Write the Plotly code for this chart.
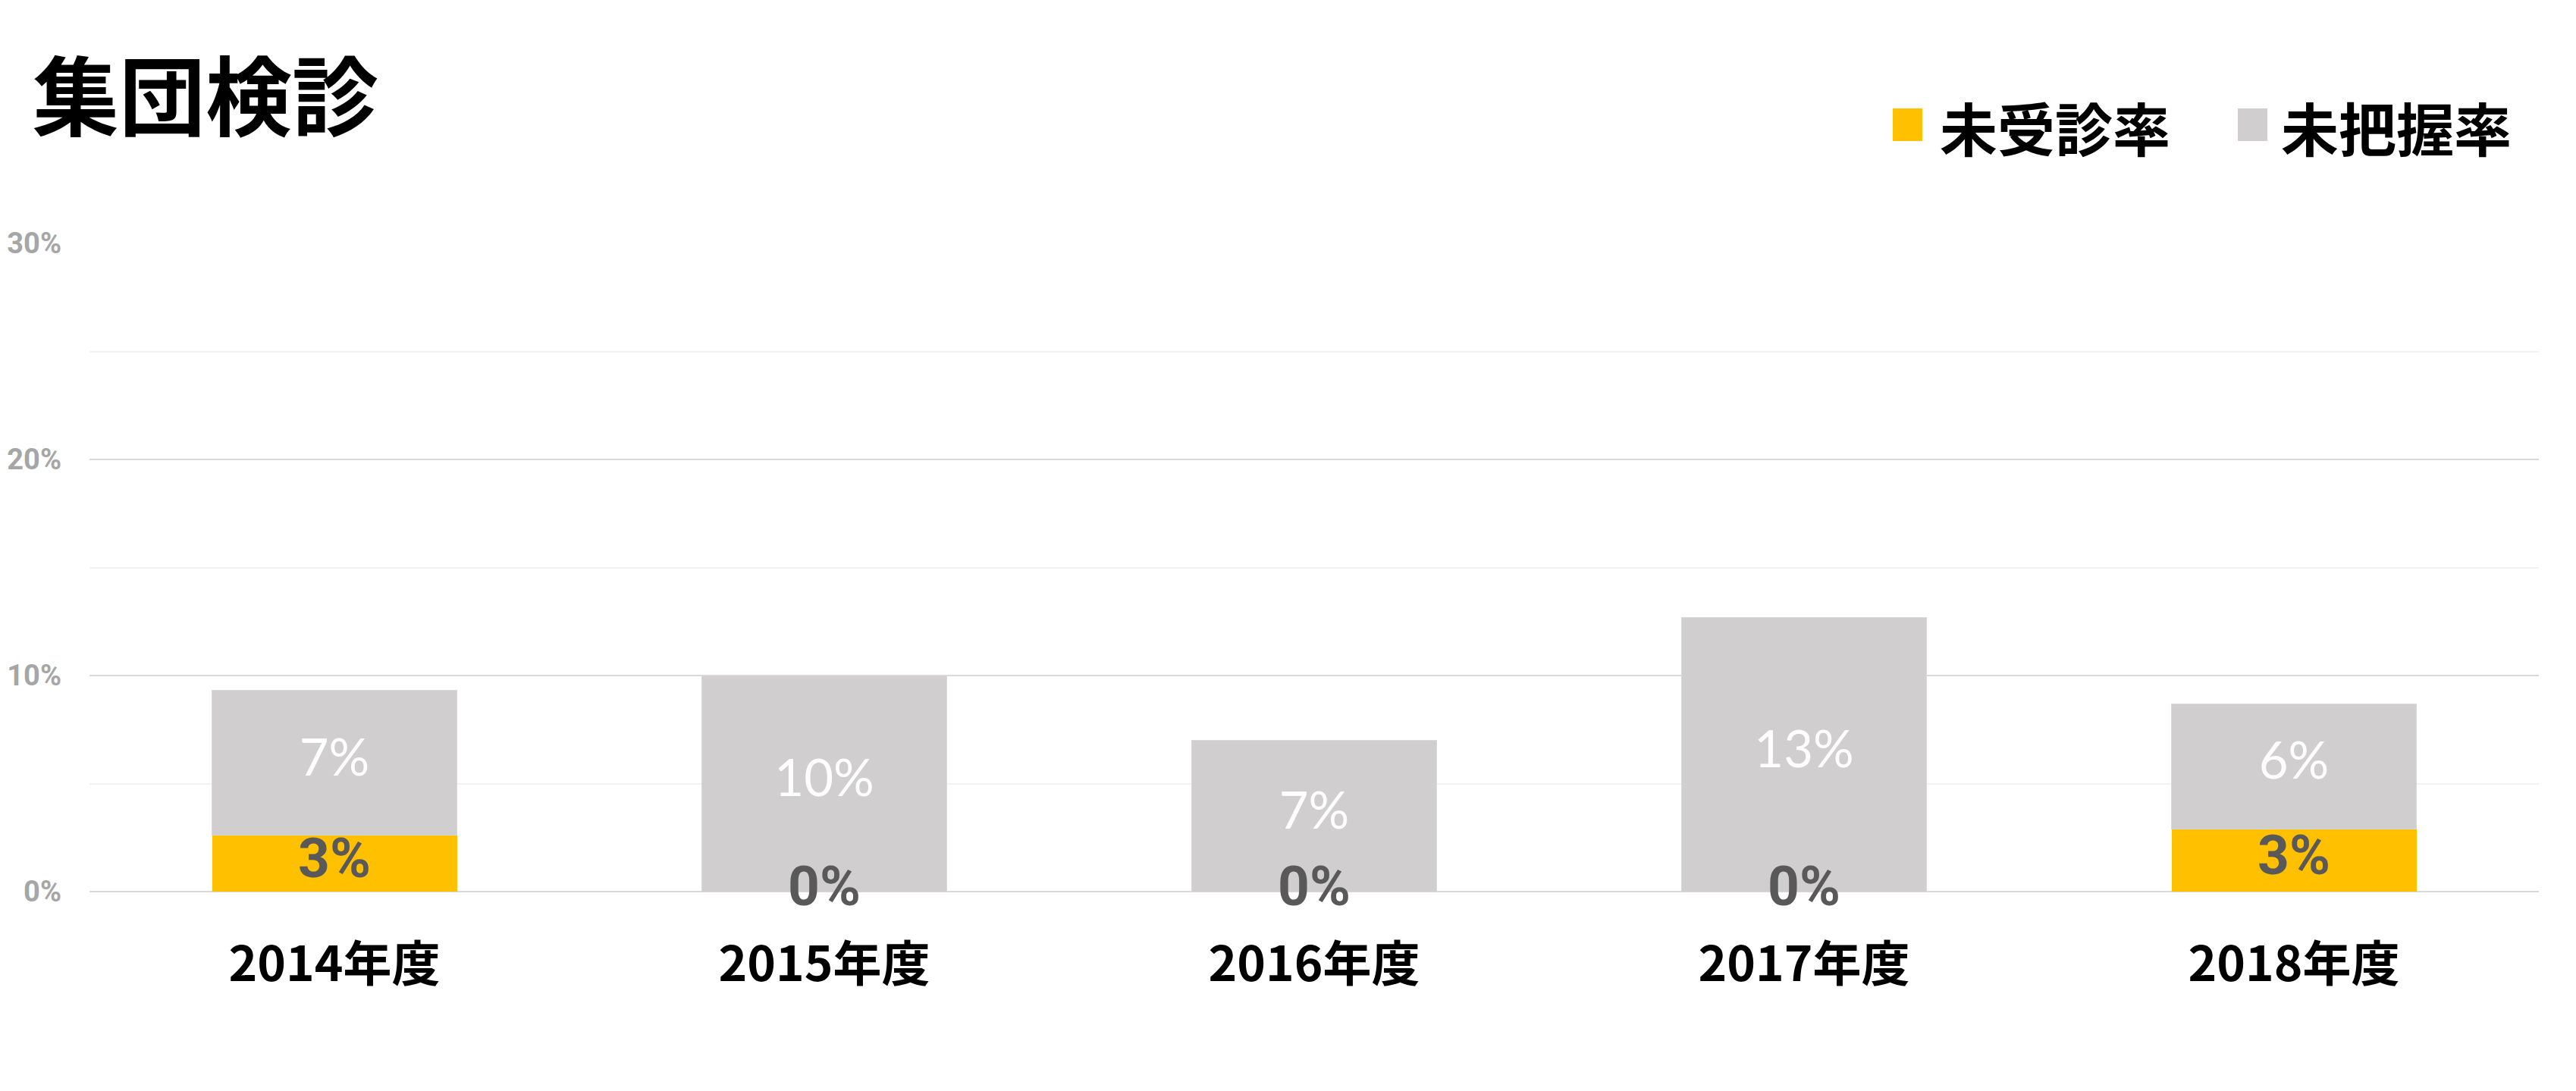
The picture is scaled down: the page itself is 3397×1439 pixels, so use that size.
import plotly.graph_objects as go

# ---- data ----
categories = ["2014年度", "2015年度", "2016年度", "2017年度", "2018年度"]
mijushin = [0.026, 0.0, 0.0, 0.0, 0.029]      # 未受診率
mihaaku = [0.067, 0.100, 0.070, 0.127, 0.058]  # 未把握率
series_names = ["未受診率", "未把握率"]
y_ticks = [0, 0.1, 0.2, 0.3]
y_tick_labels = ["0%", "10%", "20%", "30%"]

YELLOW = "#FFC000"
GRAY = "#D0CECE"
FONT = "Noto Sans CJK JP"
LFONT = "Lato"

OFF = 8  # browser body margin
W, H = 3397 - 2 * OFF, 1439 - 2 * OFF
ML = 118 - OFF
MT = 321 - OFF
MR = W - (3348 - OFF)
MB = H - (1176 - OFF)

fig = go.Figure()
fig.add_trace(go.Bar(x=categories, y=mijushin, name=series_names[0],
                     marker=dict(color=YELLOW, line=dict(width=0)), width=0.5))
fig.add_trace(go.Bar(x=categories, y=mihaaku, name=series_names[1],
                     marker=dict(color=GRAY, line=dict(color="#D9D9D9", width=1)), width=0.5))

# data labels (centred in each segment)
lab1_y = [v / 2 for v in mijushin]
lab2_y = [a + b / 2 for a, b in zip(mijushin, mihaaku)]
fig.add_trace(go.Scatter(x=categories, y=lab1_y, mode="text",
                         text=[f"{round(v*100)}%" for v in mijushin],
                         textfont=dict(family="Roboto", size=73, color="#595959", weight="bold"),
                         textposition="middle center", cliponaxis=False, hoverinfo="skip"))
fig.add_trace(go.Scatter(x=categories, y=lab2_y, mode="text",
                         text=[f"{round(v*100)}%" for v in mihaaku],
                         textfont=dict(family=LFONT, size=67, color="#FFFFFF"),
                         textposition="middle center", cliponaxis=False, hoverinfo="skip"))

fig.update_layout(
    width=W, height=H,
    margin=dict(l=ML, r=MR, t=MT, b=MB, pad=0),
    barmode="stack",
    showlegend=False,
    plot_bgcolor="white", paper_bgcolor="white",
    font=dict(family=FONT),
    title=dict(text="集団検診", x=(43 - OFF) / W, xanchor="left", xref="container",
               y=1 - (130 - OFF) / H, yanchor="middle", yref="container",
               font=dict(family=FONT, size=114, color="black", weight="bold")),
    xaxis=dict(showgrid=False, showline=False, zeroline=False, ticks="", automargin=False,
               tickfont=dict(family=FONT, size=64, color="black", weight="bold"),
               ticklabelstandoff=53, range=[-0.5, 4.5]),
    yaxis=dict(range=[0, 0.3], tickvals=y_ticks, ticktext=y_tick_labels, automargin=False,
               showgrid=True, gridcolor="#D9D9D9", gridwidth=2,
               zeroline=True, zerolinecolor="#D9D9D9", zerolinewidth=2,
               showline=False, ticks="",
               tickfont=dict(family="Roboto", size=38, color="#A6A6A6", weight="bold"),
               ticklabelstandoff=36,
               minor=dict(dtick=0.05, showgrid=True, gridcolor="#F2F2F2", gridwidth=2)),
)

# manual legend (large squares as in reference)
pw = W - ML - MR
ph = H - MT - MB
def px_x(x):
    return (x - OFF - ML) / pw
def px_y(y):
    return (H - MB - (y - OFF)) / ph

legend_items = [(series_names[0], YELLOW, 2496, 2556), (series_names[1], GRAY, 2951, 3006)]
for name, col, sx, tx in legend_items:
    fig.add_shape(type="rect", xref="paper", yref="paper",
                  x0=px_x(sx), x1=px_x(sx + 39), y0=px_y(186), y1=px_y(143),
                  fillcolor=col, line=dict(width=0))
    fig.add_annotation(text=name, xref="paper", yref="paper", x=px_x(tx), y=px_y(167),
                       xanchor="left", yanchor="middle", showarrow=False,
                       font=dict(family=FONT, size=76, color="black", weight="bold"))

fig.write_html("out.html")
